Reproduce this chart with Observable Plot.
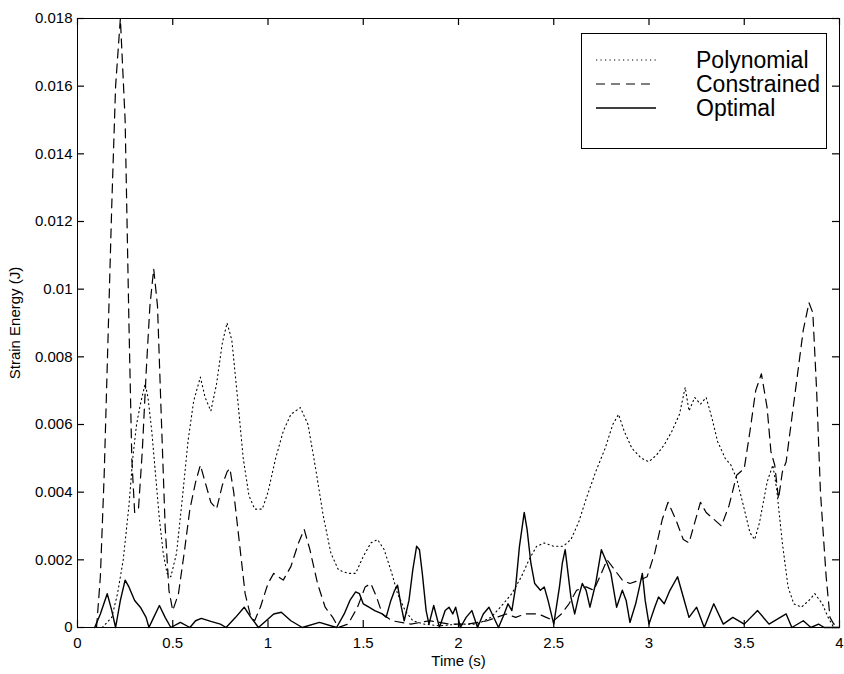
<!DOCTYPE html>
<html>
<head>
<meta charset="utf-8">
<script src="https://cdn.jsdelivr.net/npm/d3@7"></script>
<script src="https://cdn.jsdelivr.net/npm/@observablehq/plot@0.6"></script>
<style>
  html, body { margin: 0; padding: 0; background: white; }
  #wrap { position: relative; width: 844px; height: 674px; overflow: hidden; font-family: "Liberation Sans", Arial, sans-serif; }
  #legend { position: absolute; left: 581px; top: 33px; width: 244px; height: 100px; border: 1px solid black; background: white; padding-top: 14px; box-sizing: content-box; }
  #legend .row { display: flex; align-items: center; height: 24px; }
  #legend svg { margin-left: 14px; margin-right: 40px; }
  #legend span { font-size: 23px; color: black; line-height: 24px; }
</style>
</head>
<body>
<div id="wrap"></div>
<script>
// ---- Data ----
const seriesNames = ["Polynomial", "Constrained", "Optimal"];
const xTicks = [0, 0.5, 1, 1.5, 2, 2.5, 3, 3.5, 4];
const yTicks = [0, 0.002, 0.004, 0.006, 0.008, 0.01, 0.012, 0.014, 0.016, 0.018];

const polyT = [0.13,0.18,0.21,0.24,0.27,0.29,0.31,0.33,0.355,0.37,0.39,0.41,0.43,0.45,0.47,0.49,0.52,0.55,0.58,0.61,0.645,0.67,0.70,0.73,0.76,0.785,0.81,0.84,0.87,0.90,0.93,0.97,1.0,1.04,1.08,1.12,1.17,1.21,1.25,1.29,1.33,1.37,1.42,1.46,1.50,1.54,1.575,1.61,1.65,1.68,1.72,1.76,1.82,1.9,2.0,2.1,2.17,2.22,2.28,2.33,2.37,2.41,2.45,2.5,2.55,2.59,2.63,2.67,2.72,2.77,2.81,2.84,2.87,2.91,2.96,3.0,3.04,3.08,3.12,3.16,3.19,3.21,3.24,3.27,3.30,3.33,3.36,3.40,3.43,3.46,3.50,3.53,3.555,3.58,3.62,3.65,3.67,3.70,3.73,3.76,3.80,3.84,3.87,3.91,3.94,3.97];
const polyE = [0,0.0003,0.001,0.002,0.0036,0.005,0.006,0.0066,0.0072,0.0068,0.0058,0.0045,0.0032,0.0022,0.0016,0.0015,0.0022,0.0038,0.0055,0.0067,0.0074,0.0068,0.0064,0.0072,0.0084,0.009,0.0085,0.0068,0.005,0.0039,0.0035,0.0035,0.004,0.005,0.0058,0.0063,0.0065,0.006,0.0047,0.0033,0.0022,0.0017,0.0016,0.0016,0.0021,0.0025,0.0026,0.0023,0.0016,0.001,0.0005,0.0002,0.0001,0.00005,0.0001,0.0001,0.0003,0.0006,0.001,0.0015,0.002,0.0024,0.0025,0.0024,0.0024,0.0026,0.0031,0.0038,0.0046,0.0053,0.006,0.0063,0.0058,0.0053,0.005,0.0049,0.0051,0.0054,0.0058,0.0063,0.0071,0.0064,0.0068,0.0066,0.0068,0.0062,0.0055,0.005,0.0048,0.0044,0.0035,0.0028,0.0026,0.0031,0.0043,0.0048,0.0041,0.0025,0.0012,0.0007,0.0006,0.0008,0.001,0.0007,0.0003,0];

const consT = [0.10,0.12,0.14,0.16,0.18,0.20,0.225,0.25,0.27,0.285,0.30,0.32,0.34,0.36,0.38,0.40,0.42,0.44,0.46,0.48,0.50,0.53,0.56,0.59,0.62,0.645,0.67,0.70,0.73,0.76,0.785,0.80,0.82,0.85,0.88,0.91,0.93,0.96,1.00,1.03,1.08,1.12,1.16,1.19,1.22,1.26,1.30,1.34,1.37,1.42,1.47,1.51,1.54,1.57,1.60,1.65,1.75,1.85,1.95,2.05,2.15,2.2,2.25,2.3,2.35,2.42,2.46,2.5,2.54,2.58,2.62,2.67,2.71,2.75,2.78,2.82,2.86,2.9,2.95,2.99,3.03,3.07,3.10,3.14,3.18,3.21,3.24,3.27,3.30,3.34,3.38,3.42,3.46,3.50,3.53,3.56,3.59,3.62,3.64,3.66,3.68,3.70,3.72,3.75,3.78,3.81,3.84,3.86,3.88,3.90,3.93,3.95,3.97,4.0];
const consE = [0,0.0015,0.0045,0.0085,0.0125,0.016,0.018,0.015,0.009,0.005,0.0034,0.0035,0.0052,0.0075,0.0095,0.0106,0.0095,0.0062,0.003,0.0011,0.0005,0.001,0.0022,0.0035,0.0043,0.0048,0.0043,0.0037,0.0035,0.0042,0.0046,0.0047,0.004,0.0025,0.001,0.0003,0.0002,0.0006,0.0013,0.0016,0.0014,0.0018,0.0025,0.0029,0.0023,0.0013,0.0006,0.0003,0,0.0001,0.0006,0.0012,0.0013,0.0009,0.0004,0.0002,0.0001,0.0002,0.0001,0.0001,0.0002,0.0003,0.0004,0.0003,0.0004,0.0004,0.0003,0.0002,0.0004,0.0007,0.0011,0.0012,0.0011,0.0016,0.002,0.0017,0.0014,0.0013,0.0014,0.0015,0.0022,0.0032,0.0037,0.0032,0.0026,0.0025,0.0031,0.0037,0.0034,0.0032,0.003,0.0036,0.0045,0.0047,0.0058,0.007,0.0075,0.0065,0.0052,0.0048,0.0038,0.0046,0.0049,0.0062,0.0075,0.0088,0.0096,0.0093,0.007,0.004,0.0015,0.0003,0.0001,0.0001];

const optT = [0.09,0.12,0.156,0.18,0.20,0.225,0.25,0.27,0.30,0.33,0.36,0.375,0.40,0.43,0.46,0.49,0.54,0.59,0.62,0.65,0.70,0.75,0.78,0.83,0.875,0.91,0.95,0.99,1.03,1.07,1.12,1.18,1.27,1.36,1.40,1.43,1.46,1.48,1.50,1.53,1.56,1.60,1.62,1.645,1.665,1.68,1.70,1.715,1.74,1.76,1.78,1.795,1.81,1.83,1.845,1.87,1.90,1.93,1.95,1.97,1.985,2.01,2.04,2.07,2.10,2.13,2.16,2.21,2.24,2.26,2.28,2.30,2.32,2.345,2.36,2.38,2.40,2.43,2.45,2.47,2.50,2.53,2.545,2.56,2.575,2.59,2.61,2.63,2.65,2.67,2.69,2.72,2.75,2.78,2.80,2.83,2.86,2.88,2.90,2.93,2.95,2.965,2.98,3.00,3.03,3.05,3.08,3.11,3.15,3.18,3.21,3.25,3.29,3.34,3.39,3.44,3.50,3.57,3.63,3.72,3.75,3.81,3.85,3.89,3.92,4.0];
const optE = [0,0.0004,0.001,0.0005,0,0.0008,0.0014,0.0012,0.0008,0.0006,0.0003,0,0.0003,0.00065,0.0003,0,0.00015,0,0.0002,0.00027,0.00018,0.0001,0,0.0003,0.0006,0.0003,0,0.0002,0.0004,0.00045,0.0002,0,0.00015,0,0.0004,0.0008,0.00105,0.001,0.0007,0.0006,0.0005,0.0004,0.0003,0.0008,0.0011,0.00125,0.0006,0.0002,0.0008,0.0017,0.0024,0.0023,0.0016,0.0005,0.0001,0.00065,0,0.0005,0.0006,0.0004,0.0006,0,0.0003,0.0005,0,0.0004,0.0006,0,0.0004,0.0007,0.0005,0.0012,0.0024,0.0034,0.0029,0.0019,0.0013,0.0011,0.0012,0.0008,0.0001,0.0012,0.0019,0.0023,0.0016,0.0009,0.0004,0.0009,0.0013,0.0011,0.0006,0.0013,0.0023,0.0019,0.0016,0.0006,0.0011,0.0008,0.00015,0.0007,0.0012,0.0016,0.0008,0.0001,0.0006,0.0009,0.0007,0.0011,0.0015,0.0009,0.0003,0.0006,0,0.0007,0.0001,0.0003,0.0001,0.0005,0.0001,0.0004,0,0.0002,0,0.0001,0,0];

const styles = {
  Polynomial: {strokeDasharray: "1.2,3.3", strokeWidth: 1.1},
  Constrained: {strokeDasharray: "9,6", strokeWidth: 1.2},
  Optimal: {strokeDasharray: null, strokeWidth: 1.4}
};

const toRows = (T, E) => T.map((t, i) => ({t, e: E[i]}));
const poly = toRows(polyT, polyE);
const cons = toRows(consT, consE);
const opt = toRows(optT, optE);

const fmtY = d => String(+d.toFixed(3));
const fmtX = d => String(d);

const W = 844, H = 674, mL = 77, mR = 5, mT = 18, mB = 47;
const innerW = W - mL - mR, innerH = H - mT - mB;
const xDomain = [0, 4], yDomain = [0, 0.018];
const TICK = 7; // px, inward tick length
const tickLenY = (yDomain[1] - yDomain[0]) * TICK / innerH; // in data units of y
const tickLenX = (xDomain[1] - xDomain[0]) * TICK / innerW; // in data units of x

const chart = Plot.plot({
  width: W,
  height: H,
  marginLeft: mL,
  marginRight: mR,
  marginTop: mT,
  marginBottom: mB,
  style: {fontFamily: "'Liberation Sans', Arial, sans-serif", fontSize: "15px", color: "black", background: "white", overflow: "visible"},
  x: {domain: xDomain},
  y: {domain: yDomain},
  marks: [
    Plot.lineY(poly, {x: "t", y: "e", stroke: "black", strokeWidth: styles.Polynomial.strokeWidth, strokeDasharray: styles.Polynomial.strokeDasharray}),
    Plot.lineY(cons, {x: "t", y: "e", stroke: "black", strokeWidth: styles.Constrained.strokeWidth, strokeDasharray: styles.Constrained.strokeDasharray}),
    Plot.lineY(opt, {x: "t", y: "e", stroke: "black", strokeWidth: styles.Optimal.strokeWidth}),
    Plot.frame({stroke: "black", strokeWidth: 1}),
    // inward tick marks on all four sides
    Plot.ruleX(xTicks, {x: d => d, y1: yDomain[0], y2: yDomain[0] + tickLenY, stroke: "black", strokeWidth: 1.2}),
    Plot.ruleX(xTicks, {x: d => d, y1: yDomain[1] - tickLenY, y2: yDomain[1], stroke: "black", strokeWidth: 1.2}),
    Plot.ruleY(yTicks, {y: d => d, x1: xDomain[0], x2: xDomain[0] + tickLenX, stroke: "black", strokeWidth: 1.2}),
    Plot.ruleY(yTicks, {y: d => d, x1: xDomain[1] - tickLenX, x2: xDomain[1], stroke: "black", strokeWidth: 1.2}),
    // tick labels + axis titles
    Plot.axisX(xTicks, {anchor: "bottom", tickSize: 0, tickPadding: 10, tickFormat: fmtX, fill: "black", label: "Time (s)", labelAnchor: "center", labelOffset: 38, labelArrow: "none"}),
    Plot.axisY(yTicks, {anchor: "left", tickSize: 0, tickPadding: 5, tickFormat: fmtY, fill: "black", label: "Strain Energy (J)", labelAnchor: "center", labelOffset: 68, labelArrow: "none"})
  ]
});

const wrap = document.getElementById("wrap");
wrap.appendChild(chart);

// legend overlay
const legend = document.createElement("div");
legend.id = "legend";
for (const name of seriesNames) {
  const row = document.createElement("div");
  row.className = "row";
  const s = styles[name];
  const svg = d3.create("svg").attr("width", 60).attr("height", 10);
  svg.append("line").attr("x1", 0).attr("x2", 60).attr("y1", 5).attr("y2", 5)
    .attr("stroke", "black").attr("stroke-width", s.strokeWidth)
    .attr("stroke-dasharray", s.strokeDasharray);
  row.appendChild(svg.node());
  const span = document.createElement("span");
  span.textContent = name;
  row.appendChild(span);
  legend.appendChild(row);
}
wrap.appendChild(legend);
</script>
</body>
</html>
